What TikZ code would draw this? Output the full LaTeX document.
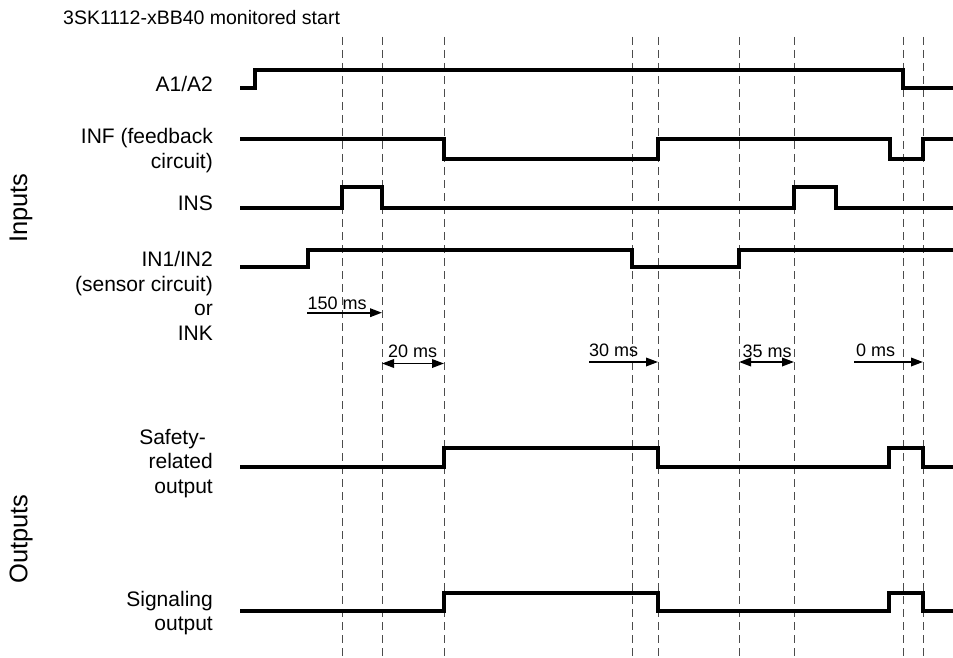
\documentclass[tikz,border=0pt]{standalone}
\usepackage{fontspec}
\setmainfont{Liberation Sans}
\usetikzlibrary{arrows.meta}
\begin{document}
\begin{tikzpicture}[x=1pt,y=-1pt,
  lbl/.style={anchor=base east, inner sep=0pt, font=\fontsize{21}{24}\selectfont},
  side/.style={rotate=90, inner sep=0pt, font=\fontsize{25.5}{28}\selectfont},
  mslbl/.style={anchor=base west, inner sep=0pt, font=\fontsize{18}{20}\selectfont},
  sig/.style={line width=3.8pt, line join=miter},
  guide/.style={line width=1pt, black!70, dash pattern=on 8pt off 5pt},
  tim/.style={line width=1.9pt, -{Triangle[length=12pt,width=8.5pt]}},
  timd/.style={line width=1.9pt, {Triangle[length=12pt,width=8.5pt]}-{Triangle[length=12pt,width=8.5pt]}}]
\useasboundingbox (0,0) rectangle (953,658);
\fill[white] (0,0) rectangle (953,658);

% guides
\foreach \gx in {342,382,444,632,658,739,794,903,923}
  \draw[guide] (\gx,37) -- (\gx,658);

% title
\node[anchor=base west, inner sep=0pt, font=\fontsize{19.5}{24}\selectfont] (title) at (63,25) {3SK1112-xBB40 monitored start};

% side labels
\node[side] (inputs) at (21,208) {Inputs};
\node[side] (outputs) at (21,539) {Outputs};

% signal labels
\node[lbl] (a1) at (213,92) {A1/A2};
\node[lbl] (inf1) at (213,143.5) {INF (feedback};
\node[lbl] (inf2) at (213,168) {circuit)};
\node[lbl] (ins) at (213,210.7) {INS};
\node[lbl] (in1) at (213,266.7) {IN1/IN2};
\node[lbl] (in2) at (213,291) {(sensor circuit)};
\node[lbl] (in3) at (213,315.5) {or};
\node[lbl] (in4) at (213,340) {INK};
\node[lbl] (so1) at (206,444) {Safety-};
\node[lbl] (so2) at (213,468.5) {related};
\node[lbl] (so3) at (213,493) {output};
\node[lbl] (sg1) at (213,606) {Signaling};
\node[lbl] (sg2) at (213,630.5) {output};

% signals
\draw[sig] (240,88) -- (255,88) -- (255,70) -- (903,70) -- (903,88) -- (953,88);
\draw[sig] (240,139) -- (444,139) -- (444,159) -- (658,159) -- (658,139) -- (890,139) -- (890,159) -- (923,159) -- (923,139) -- (953,139);
\draw[sig] (240,208) -- (342,208) -- (342,187) -- (382,187) -- (382,208) -- (794,208) -- (794,187) -- (836,187) -- (836,208) -- (953,208);
\draw[sig] (240,267) -- (308,267) -- (308,250) -- (632,250) -- (632,267) -- (739,267) -- (739,250) -- (953,250);
\draw[sig] (240,467) -- (444,467) -- (444,448) -- (658,448) -- (658,467) -- (889,467) -- (889,448) -- (923,448) -- (923,467) -- (953,467);
\draw[sig] (240,611) -- (444,611) -- (444,593) -- (658,593) -- (658,611) -- (889,611) -- (889,593) -- (923,593) -- (923,611) -- (953,611);

% timing arrows
\coordinate (t1a) at (307,312.7); \coordinate (t1b) at (382,312.7);
\coordinate (t2a) at (382,363.5); \coordinate (t2b) at (444,363.5);
\coordinate (t3a) at (589,362); \coordinate (t3b) at (658,362);
\coordinate (t4a) at (739,362); \coordinate (t4b) at (794,362);
\coordinate (t5a) at (854,362); \coordinate (t5b) at (923,362);
\draw[tim] (t1a) -- (t1b);
\draw[timd] (t2a) -- (t2b);
\draw[tim] (t3a) -- (t3b);
\draw[timd] (t4a) -- (t4b);
\draw[tim] (t5a) -- (t5b);
\node[mslbl] (m1) at (307.5,309) {150 ms};
\node[mslbl] (m2) at (388,357) {20 ms};
\node[mslbl] (m3) at (589,356) {30 ms};
\node[mslbl] (m4) at (742.5,357) {35 ms};
\node[mslbl] (m5) at (856,356) {0 ms};
\end{tikzpicture}
\end{document}
